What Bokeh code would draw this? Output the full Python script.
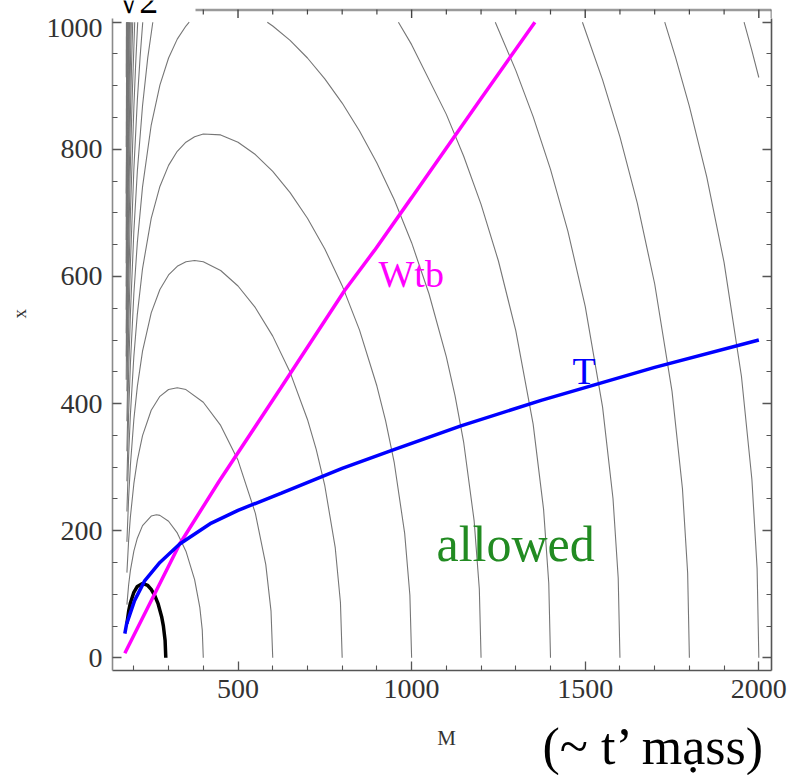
from bokeh.plotting import figure
from bokeh.models import LinearAxis, FixedTicker, Range1d
from bokeh.layouts import column
from bokeh.core.properties import value
from bokeh.embed import file_html
from bokeh.resources import INLINE

# ---------------- data ----------------
x_major_ticks = [500, 1000, 1500, 2000]
x_minor_ticks = [200, 300, 400, 600, 700, 800, 900, 1100, 1200, 1300, 1400,
                 1600, 1700, 1800, 1900]
y_major_ticks = [0, 200, 400, 600, 800, 1000]
y_minor_ticks = [50, 100, 150, 250, 300, 350, 450, 500, 550, 650, 700, 750,
                 850, 900, 950]

# thin gray contour lines (M, x) -- one pair of lists per contour piece
c400_m = [180, 185, 190, 200, 210, 225, 250, 265, 275, 300, 325, 350, 375, 390, 397, 400]
c400_x = [83.6, 115.0, 137.1, 167.7, 188.2, 207.9, 223.0, 225.0, 224.1, 214.9, 196.5, 167.7, 123.1, 79.4, 43.9, 0]
c600_m = [180, 185, 190, 200, 210, 225, 250, 275, 300, 325, 350, 400, 450, 500, 550, 580, 595, 600]
c600_x = [134.0, 185.1, 221.6, 273.9, 310.7, 349.6, 389.5, 411.4, 422.1, 425.0, 422.0, 402.1, 365.6, 310.7, 227.3, 146.5, 73.9, 0]
c800_m = [180, 185, 190, 200, 210, 225, 250, 275, 300, 325, 350, 375, 400, 450, 500, 550, 600, 650, 700, 725, 750, 780, 795, 800]
c800_x = [182.4, 252.4, 302.6, 375.0, 426.7, 482.5, 542.7, 579.5, 602.4, 616.0, 623.0, 625.0, 623.0, 609.4, 585.0, 550.8, 506.1, 449.1, 375.0, 328.2, 270.7, 173.2, 87.1, 0]
c1000_m = [180, 185, 190, 200, 210, 225, 250, 275, 300, 325, 350, 375, 400, 450, 500, 550, 600, 650, 700, 750, 800, 850, 900, 925, 950, 980, 995, 1000]
c1000_x = [230.2, 318.7, 382.3, 474.3, 540.4, 612.4, 691.5, 741.6, 774.8, 796.9, 811.2, 819.9, 824.1, 822.7, 811.2, 791.8, 765.2, 731.9, 691.5, 643.2, 585.5, 515.5, 427.6, 373.1, 306.9, 195.8, 98.3, 0]
c1200a_m = [180, 185, 190, 200, 210, 225, 250, 275, 300, 325, 350, 359.4]
c1200a_x = [277.7, 384.5, 461.4, 572.8, 653.1, 740.9, 838.2, 901.0, 943.7, 973.4, 994.0, 1000]
c1200b_m = [584.4, 600, 650, 700, 750, 800, 850, 900, 950, 1000, 1050, 1100, 1125, 1150, 1180, 1195, 1200]
c1200b_x = [1000, 994.0, 971.5, 943.7, 910.9, 872.8, 828.9, 778.6, 720.6, 653.1, 572.8, 473.5, 412.5, 338.8, 215.8, 108.3, 0]
c1400a_m = [180, 185, 190, 200, 210, 225, 240, 254.6]
c1400a_x = [325.0, 450.1, 540.2, 670.8, 765.1, 868.5, 943.9, 1000]
c1400b_m = [962, 1000, 1100, 1150, 1200, 1250, 1300, 1350, 1380, 1395, 1400]
c1400b_x = [1000, 964.7, 855.0, 789.1, 713.4, 624.3, 514.9, 367.7, 233.9, 117.3, 0]
c1600a_m = [180, 185, 190, 200, 210, 218, 225.6]
c1600a_x = [372.2, 515.4, 618.7, 768.5, 876.8, 945.2, 1000]
c1600b_m = [1241, 1300, 1350, 1400, 1450, 1500, 1550, 1580, 1595, 1600]
c1600b_x = [1000, 924.2, 851.5, 768.5, 671.4, 553.0, 394.3, 250.6, 125.6, 0]
c1800a_m = [180, 185, 190, 200, 205, 211.1]
c1800a_x = [419.3, 580.7, 697.1, 866.0, 931.4, 1000]
c1800b_m = [1492, 1550, 1600, 1650, 1700, 1750, 1780, 1795, 1800]
c1800b_x = [1000, 909.3, 819.7, 715.3, 588.5, 419.2, 266.3, 133.4, 0]
c2000a_m = [180, 185, 190, 195, 202.4]
c2000a_x = [466.3, 645.9, 775.4, 878.1, 1000]
c2000b_m = [1729, 1760, 1800, 1850, 1900, 1950, 1980, 1995, 2000]
c2000b_x = [1000, 945.2, 867.6, 756.5, 621.8, 442.6, 281.0, 140.8, 0]
c2200a_m = [180, 185, 190, 193, 196.7]
c2200a_x = [513.3, 711.0, 853.6, 924.2, 1000]
c2200b_m = [1957.5, 1980, 2000]
c2200b_x = [1000, 955.2, 913.0]
# dense bundle of steep contours at the left edge
c2400_m = [178, 180, 183, 186, 190, 192.7]
c2400_x = [437.5, 560.2, 699.7, 810.7, 931.6, 1000]
c2600_m = [178, 180, 183, 186, 189.7]
c2600_x = [474.1, 607.2, 758.4, 878.7, 1000]
c2800_m = [178, 180, 183, 186, 187.5]
c2800_x = [510.8, 654.1, 817.0, 946.7, 1000]
c3000_m = [178, 180, 183, 185.7]
c3000_x = [547.4, 701.0, 875.6, 1000]
c3200_m = [178, 180, 183, 184.3]
c3200_x = [584.0, 747.9, 934.2, 1000]
c3400_m = [178, 180, 183.1]
c3400_x = [620.7, 794.8, 1000]
c3600_m = [178, 180, 182.3]
c3600_x = [657.3, 841.7, 1000]
c3800_m = [178, 180, 181.5]
c3800_x = [693.9, 888.6, 1000]
c4000_m = [178, 180, 180.8]
c4000_x = [730.5, 935.5, 1000]
c4400_m = [178, 179.7]
c4400_x = [803.7, 1000]
c5000_m = [178, 178.7]
c5000_x = [913.4, 1000]

# thick black contour
black_m = [180, 185, 190, 200, 210, 225, 240, 250, 260, 270, 280, 285, 290, 292]
black_x = [53.8, 73.3, 86.3, 103.0, 112.2, 117.0, 113.8, 107.7, 98.3, 84.7, 64.7, 50.2, 27.2, 0]

# blue "T" curve
t_m = [174, 179, 202, 231, 275, 332, 423, 500, 625, 800, 941, 1142, 1373, 1700, 2000]
t_x = [38, 53, 90, 121, 150, 179, 212, 232, 259, 298, 326, 365, 405, 457, 500]

# magenta "Wtb" curve
wtb_m = [174, 332, 447, 625, 807, 893, 1000, 1200, 1355]
wtb_x = [7, 179, 279, 426, 578, 641, 724, 880, 1000]

contour_pieces = [
    (c400_m, c400_x), (c600_m, c600_x), (c800_m, c800_x), (c1000_m, c1000_x),
    (c1200a_m, c1200a_x), (c1200b_m, c1200b_x), (c1400a_m, c1400a_x), (c1400b_m, c1400b_x),
    (c1600a_m, c1600a_x), (c1600b_m, c1600b_x), (c1800a_m, c1800a_x), (c1800b_m, c1800b_x),
    (c2000a_m, c2000a_x), (c2000b_m, c2000b_x), (c2200a_m, c2200a_x), (c2200b_m, c2200b_x),
    (c2400_m, c2400_x), (c2600_m, c2600_x), (c2800_m, c2800_x), (c3000_m, c3000_x),
    (c3200_m, c3200_x), (c3400_m, c3400_x), (c3600_m, c3600_x), (c3800_m, c3800_x),
    (c4000_m, c4000_x), (c4400_m, c4400_x), (c5000_m, c5000_x),
]

# ---------------- geometry ----------------
X0, X1 = 138.5, 2036.5           # plotted M range (frame)
Y0, Y1 = -20, 1020               # plotted x range (frame)
FRAME_L, FRAME_R = 112, 19       # frame borders in pixels
FRAME_W = 790 - FRAME_L - FRAME_R
PX_PER_M = FRAME_W / (X1 - X0)
PX_PER_Y = 661 / (Y1 - Y0)
TOP_H, MAIN_H, BOT_H = 18, 700, 57
MAIN_Y1 = Y1 - 9 / PX_PER_Y       # main frame top sits 18 px below the page top
BOX_RIGHT_M = X0 + (195 - FRAME_L) / PX_PER_M   # white box hiding the top-left corner

SERIF = "Liberation Serif"

def strip(h):
    s = figure(width=790, height=h, output_backend="svg", toolbar_location=None,
               x_range=Range1d(X0, X1), y_range=Range1d(h, 0),
               min_border_left=FRAME_L, min_border_right=FRAME_R,
               min_border_top=0, min_border_bottom=0,
               x_axis_location=None, y_axis_location=None)
    s.outline_line_color = None
    s.xgrid.visible = False
    s.ygrid.visible = False
    s.background_fill_color = "white"
    s.border_fill_color = "white"
    return s

# ---------------- top strip: frame top edge + cut-off text ----------------
top = strip(TOP_H)
top.segment(x0=[BOX_RIGHT_M], y0=[9.5], x1=[X1], y1=[9.5], line_color="#9a9a9a", line_width=2.5)
top.segment(x0=[X1], y0=[9], x1=[X1], y1=[18], line_color="#555555", line_width=1.6)
maj_vis = [t for t in x_major_ticks if t >= BOX_RIGHT_M]
min_vis = [t for t in x_minor_ticks if t >= BOX_RIGHT_M]
top.segment(x0=maj_vis, y0=[9] * len(maj_vis), x1=maj_vis, y1=[18] * len(maj_vis),
            line_color="#444444", line_width=1.4)
top.segment(x0=min_vis, y0=[9] * len(min_vis), x1=min_vis, y1=[14] * len(min_vis),
            line_color="#444444", line_width=1.2)
top.text(x=[155.8], y=[-1], text=["\u221a2"], text_font=value(SERIF),
         text_font_size=value("38px"), text_baseline="middle", text_color="black")

# ---------------- main plot ----------------
p = figure(width=790, height=MAIN_H, output_backend="svg", toolbar_location=None,
           x_range=Range1d(X0, X1), y_range=Range1d(Y0, MAIN_Y1),
           min_border_left=FRAME_L, min_border_right=FRAME_R, min_border_top=0,
           min_border_bottom=48)
p.background_fill_color = "white"
p.border_fill_color = "white"
p.outline_line_color = None
p.xgrid.visible = False
p.ygrid.visible = False

p.multi_line(xs=[c[0] for c in contour_pieces], ys=[c[1] for c in contour_pieces],
             line_color="#767676", line_width=1.1)
p.line(black_m, black_x, line_color="black", line_width=3.5)
p.line(wtb_m, wtb_x, line_color="#ff00ff", line_width=3.5)
p.line(t_m, t_x, line_color="#0000ff", line_width=3.5)

right_axis = LinearAxis()
p.add_layout(right_axis, "right")

xt = FixedTicker(ticks=x_major_ticks, minor_ticks=x_minor_ticks)
yt = FixedTicker(ticks=y_major_ticks, minor_ticks=y_minor_ticks)
bottom_axis = p.below[0]
left_axis = p.left[0]
bottom_axis.ticker = xt
left_axis.ticker = yt
right_axis.ticker = yt

for ax, col in [(bottom_axis, "#555555"), (left_axis, "#8a8a8a"), (right_axis, "#555555")]:
    ax.axis_line_color = col
    ax.axis_line_width = 1.6
    ax.major_tick_in = 9
    ax.major_tick_out = 0
    ax.minor_tick_in = 5
    ax.minor_tick_out = 0
    ax.major_tick_line_color = "#555555"
    ax.minor_tick_line_color = "#555555"
    ax.major_tick_line_width = 1.3
    ax.minor_tick_line_width = 1.1
    ax.major_label_text_font = SERIF
    ax.major_label_text_font_size = "28px"
    ax.major_label_text_color = "#333333"

right_axis.major_label_text_font_size = "0px"
right_axis.major_label_standoff = 0
right_axis.major_label_overrides = {t: "" for t in y_major_ticks}

bottom_axis.major_label_standoff = 9
left_axis.major_label_standoff = 10
left_axis.axis_label = "\u00a0" * 13 + "x"
left_axis.axis_label_text_font = SERIF
left_axis.axis_label_text_font_size = "19px"
left_axis.axis_label_text_font_style = "normal"
left_axis.axis_label_text_color = "#333333"
left_axis.axis_label_standoff = 14

p.text(x=[904.6], y=[603.1], text=["Wtb"], text_color="#ff00ff",
       text_font=value(SERIF), text_font_size=value("38px"), text_baseline="middle")
p.text(x=[1463.3], y=[452.0], text=["T"], text_color="#0000ff",
       text_font=value(SERIF), text_font_size=value("38px"), text_baseline="middle")
p.text(x=[1071.6], y=[179.8], text=["allowed"], text_color="#228b22",
       text_font=value(SERIF), text_font_size=value("50px"), text_baseline="middle")

# ---------------- bottom strip: axis title + slide text ----------------
bot = strip(BOT_H)
bot.text(x=[1100.4], y=[19], text=["M"], text_align="center", text_baseline="middle",
         text_font=value(SERIF), text_font_size=value("21px"), text_color="#333333")
bot.text(x=[1376.9], y=[28.3], text=["(~ t\u2019 m\u1ea1ss)"], text_baseline="middle",
         text_font=value(SERIF), text_font_size=value("52px"), text_color="black")

layout = column(top, p, bot, spacing=0)
open("out.html", "w").write(file_html(layout, INLINE))
